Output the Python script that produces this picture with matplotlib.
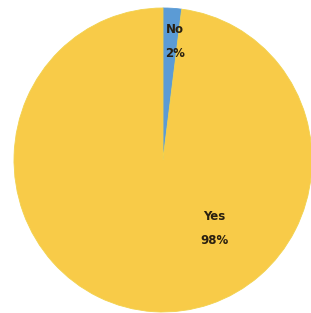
import matplotlib
matplotlib.use("Agg")
import matplotlib.pyplot as plt
from matplotlib.patches import Rectangle

categories = ["No", "Yes"]
values = [2, 98]
colors = ["#5B9BD5", "#F8CB48"]

fig = plt.figure(figsize=(3.11, 3.13), dpi=100)
ax = fig.add_axes([14/311, 1/313, 298/311, 304/313])
wedges, _ = ax.pie(values, colors=colors, startangle=90, counterclock=False,
                   radius=1.0, wedgeprops=dict(linewidth=0.6, edgecolor="#F2D24E"))
wedges[0].set_edgecolor(colors[0])
ax.set_xlim(-1, 1)
ax.set_ylim(-1, 1)
ax.set_aspect("auto")
ax.axis("off")

label_pos = [(0.08, 0.78), (0.345, -0.45)]
for cat, val, (x, y) in zip(categories, values, label_pos):
    ax.text(x, y, f"{cat}\n{val}%", ha="center", va="center", fontsize=8.5,
            fontweight="bold", color="#2a2010", linespacing=2.1)

# white scan artifact at bottom right
fig.add_artist(Rectangle((263/311, 0), 48/311, 36/313, transform=fig.transFigure,
                         facecolor="white", edgecolor="none", zorder=10))

fig.savefig("out.png", dpi=100)
